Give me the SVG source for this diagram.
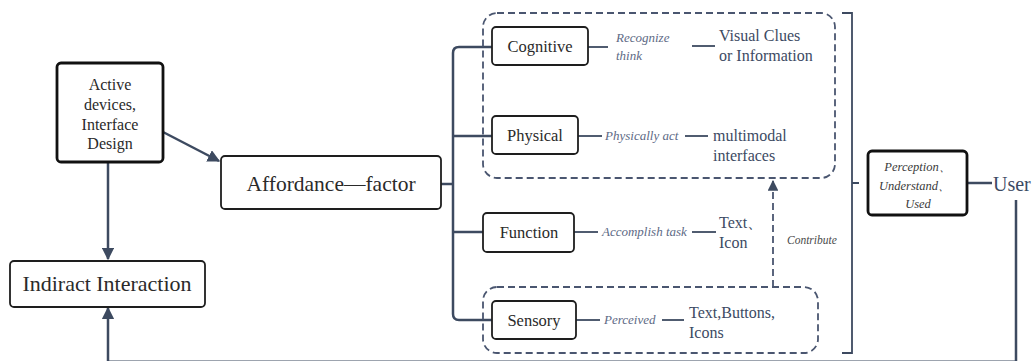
<svg xmlns="http://www.w3.org/2000/svg" width="1035" height="361" viewBox="0 0 1035 361">
<defs>
<marker id="ah" viewBox="0 0 10 10" refX="9" refY="5" markerWidth="5" markerHeight="5" orient="auto-start-reverse" markerUnits="strokeWidth">
<path d="M0,0 L10,5 L0,10 z" fill="#3d4a60"/>
</marker>
<marker id="ahs" viewBox="0 0 10 10" refX="9" refY="5" markerWidth="6" markerHeight="6" orient="auto" markerUnits="strokeWidth">
<path d="M0,0 L10,5 L0,10 z" fill="#3d4a60"/>
</marker>
<style>
.box{fill:#fff;stroke:#1e1e1e;stroke-width:1.8}
.tbox{fill:#fff;stroke:#111;stroke-width:2.8}
.con{fill:none;stroke:#3d4a60;stroke-width:2.5}
.thin{fill:none;stroke:#3d4a60;stroke-width:1.8}
.dash{fill:none;stroke:#4a5670;stroke-width:1.8;stroke-dasharray:7 4}
.t{fill:#2a2a2a}
.s{fill:#3c4a63}
.i{font-style:italic;fill:#5d6a85}
</style>
</defs>
<g id="connectors">
<line class="con" x1="163" y1="132" x2="219" y2="161" marker-end="url(#ah)"/>
<line class="con" x1="108" y1="162" x2="108" y2="259" marker-end="url(#ah)"/>
<path class="con" d="M1016,200 V361.8 H108 V308" marker-end="url(#ah)"/>
<path class="con" d="M441,184 H453"/>
<path class="con" d="M492,47 H459 Q453,47 453,53 V314 Q453,320 459,320 H492"/>
<line class="con" x1="453" y1="136" x2="492" y2="136"/>
<line class="con" x1="453" y1="232" x2="483" y2="232"/>
<line class="thin" x1="588" y1="47" x2="608" y2="47"/>
<line class="thin" x1="692" y1="46" x2="715" y2="46"/>
<line class="thin" x1="578" y1="136" x2="602" y2="136"/>
<line class="thin" x1="685" y1="136" x2="708" y2="136"/>
<line class="thin" x1="574" y1="232" x2="598" y2="232"/>
<line class="thin" x1="692" y1="232" x2="716" y2="232"/>
<line class="thin" x1="576" y1="320" x2="600" y2="320"/>
<line class="thin" x1="662" y1="320" x2="684" y2="320"/>
<path class="dash" d="M773,287 V181" marker-end="url(#ahs)"/>
<path class="thin" d="M842,13 H852 V353 H842 M852,183 H859"/>
<line class="con" x1="967" y1="183" x2="992" y2="183"/>
</g>
<g id="group-top"><rect class="dash" x="483" y="13" width="352" height="165" rx="14"/></g>
<g id="group-bottom"><rect class="dash" x="483" y="287" width="335" height="66" rx="14"/></g>
<g font-family="Liberation Serif, serif">
<g id="active-devices">
<rect class="tbox" x="57" y="63" width="106" height="99" rx="4"/>
<text class="t" font-size="16" text-anchor="middle" x="110"><tspan x="110" y="90">Active</tspan><tspan x="110" y="110">devices,</tspan><tspan x="110" y="130">Interface</tspan><tspan x="110" y="149">Design</tspan></text>
</g>
<g id="affordance">
<rect class="box" x="221" y="156" width="220" height="53" rx="4"/>
<text class="t" font-size="21.5" text-anchor="middle" x="331" y="191">Affordance—factor</text>
</g>
<g id="indirect">
<rect class="box" x="10" y="261" width="195" height="46" rx="4"/>
<text class="t" font-size="22" text-anchor="middle" x="107" y="291">Indiract Interaction</text>
</g>
<g id="cognitive">
<rect class="box" x="492" y="27" width="96" height="38" rx="4"/>
<text class="t" font-size="16.5" text-anchor="middle" x="540" y="52">Cognitive</text>
<text class="i" font-size="13"><tspan x="616" y="42">Recognize</tspan><tspan x="616" y="60">think</tspan></text>
<text class="s" font-size="16"><tspan x="719" y="41">Visual Clues</tspan><tspan x="719" y="61">or Information</tspan></text>
</g>
<g id="physical">
<rect class="box" x="492" y="116" width="86" height="38" rx="4"/>
<text class="t" font-size="16.5" text-anchor="middle" x="535" y="141">Physical</text>
<text class="i" font-size="13" x="605" y="140">Physically act</text>
<text class="s" font-size="16"><tspan x="713" y="141">multimodal</tspan><tspan x="713" y="161">interfaces</tspan></text>
</g>
<g id="function">
<rect class="box" x="483" y="213" width="91" height="39" rx="4"/>
<text class="t" font-size="16.5" text-anchor="middle" x="529" y="238">Function</text>
<text class="i" font-size="13" x="602" y="236">Accomplish task</text>
<text class="s" font-size="16"><tspan x="719" y="228">Text、</tspan><tspan x="719" y="248">Icon</tspan></text>
</g>
<g id="sensory">
<rect class="box" x="492" y="301" width="84" height="38" rx="4"/>
<text class="t" font-size="16.5" text-anchor="middle" x="534" y="326">Sensory</text>
<text class="i" font-size="13" x="604" y="324">Perceived</text>
<text class="s" font-size="16"><tspan x="689" y="318">Text,Buttons,</tspan><tspan x="689" y="338">Icons</tspan></text>
</g>
<g id="contribute"><text class="i" font-size="11.5" x="787" y="244" style="fill:#4a4a4a">Contribute</text></g>
<g id="perception">
<rect class="tbox" x="868" y="151" width="99" height="64" rx="4"/>
<text class="i" font-size="12.5" text-anchor="middle" style="fill:#3a3a3a"><tspan x="918" y="171">Perception、</tspan><tspan x="915" y="190">Understand、</tspan><tspan x="918" y="208">Used</tspan></text>
</g>
<g id="user"><text class="s" font-size="20" x="993" y="191">User</text></g>
</g>
</svg>
